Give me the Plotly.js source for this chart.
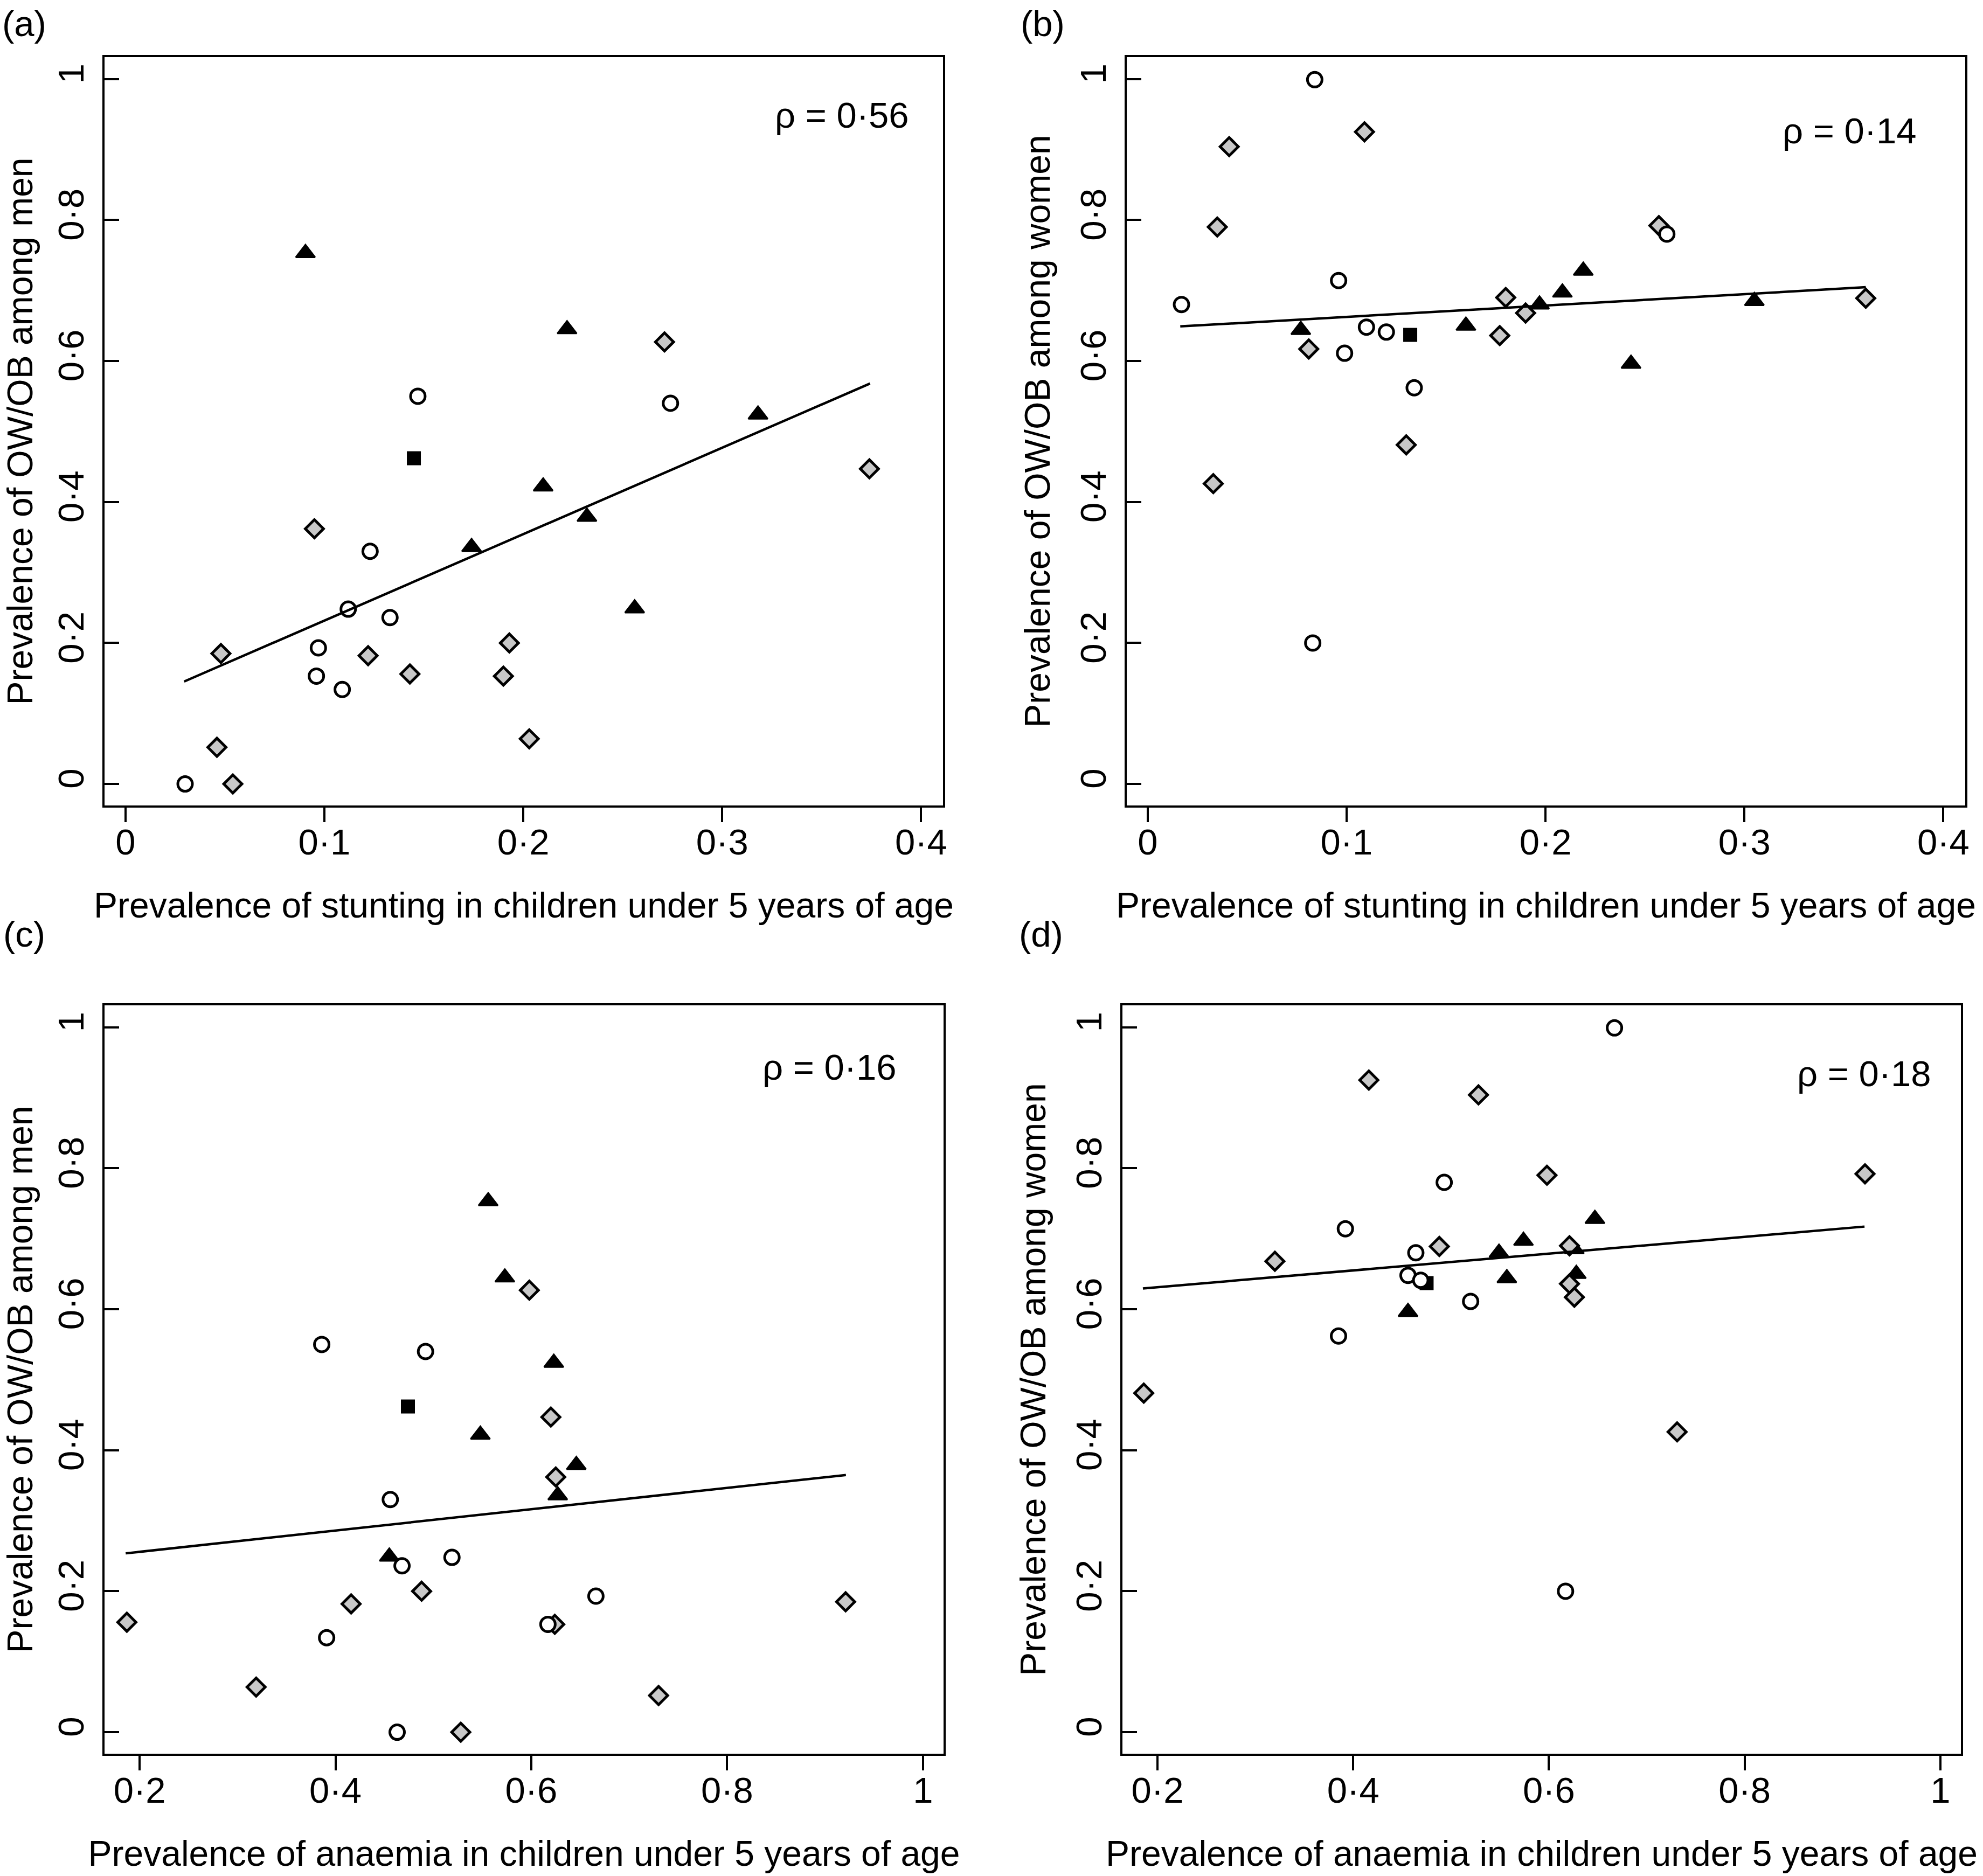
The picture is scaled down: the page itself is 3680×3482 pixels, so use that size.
<!DOCTYPE html>
<html><head><meta charset="utf-8">
<script src="https://cdn.plot.ly/plotly-3.0.1.min.js"></script>
<style>html,body{margin:0;padding:0;background:#fff}</style>
</head><body>
<div id="chart" style="width:3680px;height:3482px"></div>
<script>
// ---------- DATA ----------
// Men: prevalence of OW/OB among men (y of panels a and c)
const menCircY      = [0.550, 0.540, 0.330, 0.248, 0.236, 0.193, 0.153, 0.134, 0.000];
const menCircStunt  = [0.147, 0.274, 0.123, 0.112, 0.133, 0.097, 0.096, 0.109, 0.030];
const menCircAnaem  = [0.386, 0.492, 0.456, 0.519, 0.468, 0.666, 0.617, 0.391, 0.463];

const menDiamY      = [0.627, 0.447, 0.362, 0.200, 0.185, 0.182, 0.156, 0.153, 0.064, 0.052, 0.000];
const menDiamStunt  = [0.271, 0.374, 0.095, 0.193, 0.048, 0.122, 0.143, 0.190, 0.203, 0.046, 0.054];
const menDiamAnaem  = [0.598, 0.620, 0.625, 0.488, 0.921, 0.416, 0.187, 0.624, 0.319, 0.730, 0.528];

const menTriY       = [0.753, 0.645, 0.524, 0.422, 0.379, 0.336, 0.249];
const menTriStunt   = [0.0905, 0.222, 0.318, 0.210, 0.232, 0.174, 0.256];
const menTriAnaem   = [0.556, 0.573, 0.623, 0.548, 0.646, 0.627, 0.455];

const menSqY        = [0.462];
const menSqStunt    = [0.145];
const menSqAnaem    = [0.474];

// Women: prevalence of OW/OB among women (y of panels b and d)
const womCircY      = [0.999, 0.714, 0.680, 0.648, 0.641, 0.611, 0.562, 0.780, 0.200];
const womCircStunt  = [0.084, 0.096, 0.017, 0.110, 0.120, 0.099, 0.134, 0.261, 0.083];
const womCircAnaem  = [0.667, 0.392, 0.464, 0.456, 0.469, 0.520, 0.385, 0.493, 0.617];

const womDiamY      = [0.925, 0.904, 0.790, 0.792, 0.617, 0.690, 0.689, 0.668, 0.636, 0.481, 0.426];
const womDiamStunt  = [0.109, 0.041, 0.035, 0.257, 0.081, 0.180, 0.361, 0.190, 0.177, 0.130, 0.033];
const womDiamAnaem  = [0.416, 0.528, 0.598, 0.923, 0.626, 0.621, 0.488, 0.320, 0.621, 0.186, 0.731];

const womTriY       = [0.644, 0.650, 0.728, 0.697, 0.680, 0.685, 0.596];
const womTriStunt   = [0.077, 0.160, 0.219, 0.2085, 0.197, 0.305, 0.243];
const womTriAnaem   = [0.557, 0.628, 0.647, 0.574, 0.549, 0.626, 0.456];

const womSqY        = [0.637];
const womSqStunt    = [0.132];
const womSqAnaem    = [0.475];

// Fitted lines (end points)
const fitA_x = [0.0295, 0.3743], fitA_y = [0.1453, 0.568];
const fitB_x = [0.0164, 0.361],  fitB_y = [0.649, 0.7046];
const fitC_x = [0.1858, 0.9213], fitC_y = [0.2537, 0.3648];
const fitD_x = [0.1851, 0.9225], fitD_y = [0.6294, 0.7172];

// Spearman correlations
const rhoLabels = ['ρ = 0·56', 'ρ = 0·14', 'ρ = 0·16', 'ρ = 0·18'];
const panelLabels = ['(a)', '(b)', '(c)', '(d)'];

// Tick labels
const stuntTickVals = [0, 0.1, 0.2, 0.3, 0.4];
const stuntTickText = ['0', '0·1', '0·2', '0·3', '0·4'];
const anaemTickVals = [0.2, 0.4, 0.6, 0.8, 1];
const anaemTickText = ['0·2', '0·4', '0·6', '0·8', '1'];
const owTickVals = [0, 0.2, 0.4, 0.6, 0.8, 1];
const owTickText = ['0', '0·2', '0·4', '0·6', '0·8', '1'];

const xTitleStunt = 'Prevalence of stunting in children under 5 years of age';
const xTitleAnaem = 'Prevalence of anaemia in children under 5 years of age';
const yTitleMen = 'Prevalence of OW/OB among men';
const yTitleWomen = 'Prevalence of OW/OB among women';

// ---------- STYLES ----------
const FONT = 'Liberation Sans, Arial, Helvetica, sans-serif';
const FS = 67;
const FS_TITLE = 66;
const mTri  = {symbol: 'triangle-up', size: 31, color: 'black', line: {color: 'black', width: 3}};
const mSq   = {symbol: 'square', size: 26, color: 'black', line: {color: 'black', width: 0}};
const mDiam = {symbol: 'diamond', size: 26, color: '#c8c8c8', line: {color: 'black', width: 5}};
const mCirc = {symbol: 'circle', size: 27, color: 'white', line: {color: 'black', width: 5}};

function panelTraces(xa, ya, sets, fx, fy) {
  const out = [];
  const order = [['tri', mTri], ['sq', mSq], ['diam', mDiam], ['circ', mCirc]];
  order.forEach(([k, m]) => {
    out.push({type: 'scatter', mode: 'markers', x: sets[k][0], y: sets[k][1],
              xaxis: xa, yaxis: ya, marker: m, hoverinfo: 'x+y', cliponaxis: false});
  });
  out.push({type: 'scatter', mode: 'lines', x: fx, y: fy, xaxis: xa, yaxis: ya,
            line: {color: 'black', width: 4.5}, hoverinfo: 'skip'});
  return out;
}

const data = [].concat(
  panelTraces('x', 'y', {
    tri: [menTriStunt, menTriY], sq: [menSqStunt, menSqY],
    diam: [menDiamStunt, menDiamY], circ: [menCircStunt, menCircY]}, fitA_x, fitA_y),
  panelTraces('x2', 'y2', {
    tri: [womTriStunt, womTriY], sq: [womSqStunt, womSqY],
    diam: [womDiamStunt, womDiamY], circ: [womCircStunt, womCircY]}, fitB_x, fitB_y),
  panelTraces('x3', 'y3', {
    tri: [menTriAnaem, menTriY], sq: [menSqAnaem, menSqY],
    diam: [menDiamAnaem, menDiamY], circ: [menCircAnaem, menCircY]}, fitC_x, fitC_y),
  panelTraces('x4', 'y4', {
    tri: [womTriAnaem, womTriY], sq: [womSqAnaem, womSqY],
    diam: [womDiamAnaem, womDiamY], circ: [womCircAnaem, womCircY]}, fitD_x, fitD_y)
);

const W = 3680, H = 3482;
const tickFont = {family: FONT, size: FS, color: 'black'};
function xAxis(domain, range, vals, text, title, anchor) {
  return {domain: domain, range: range, anchor: anchor, tickmode: 'array', tickvals: vals, ticktext: text,
          ticks: 'outside', ticklen: 27, tickwidth: 4, tickcolor: 'black', tickfont: tickFont,
          ticklabelstandoff: -20,
          showline: true, linecolor: 'black', linewidth: 4, mirror: true,
          showgrid: false, zeroline: false, fixedrange: true,
          title: {text: title, font: {family: FONT, size: FS_TITLE, color: 'black'}, standoff: 58}};
}
function yAxis(domain, title, anchor) {
  return {domain: domain, range: [-0.0305, 1.031], anchor: anchor, tickmode: 'array',
          tickvals: owTickVals, ticktext: owTickText, tickangle: -90,
          ticks: 'inside', ticklen: 27, tickwidth: 4, tickcolor: 'black', tickfont: tickFont,
          ticklabelstandoff: 8,
          showline: true, linecolor: 'black', linewidth: 4, mirror: true,
          showgrid: false, zeroline: false, fixedrange: true,
          title: {text: title, font: {family: FONT, size: FS_TITLE, color: 'black'}, standoff: 22}};
}

const dxA = [194 / W, 1750 / W], dxB = [2091 / W, 3647 / W];
const dxC = [194 / W, 1751 / W], dxD = [2083 / W, 3639 / W];
const dyTop = [1 - 1495 / H, 1 - 106 / H], dyBot = [1 - 3255 / H, 1 - 1866 / H];
const stuntRange = [-0.0105, 0.411], anaemRange = [0.1642, 1.021];

const annFont = {family: FONT, size: FS, color: 'black'};
const layout = {
  width: W, height: H, margin: {l: 0, r: 0, t: 0, b: 0},
  paper_bgcolor: 'white', plot_bgcolor: 'white', showlegend: false,
  font: {family: FONT, size: FS, color: 'black'},
  xaxis:  xAxis(dxA, stuntRange, stuntTickVals, stuntTickText, xTitleStunt, 'y'),
  yaxis:  yAxis(dyTop, yTitleMen, 'x'),
  xaxis2: xAxis(dxB, stuntRange, stuntTickVals, stuntTickText, xTitleStunt, 'y2'),
  yaxis2: yAxis(dyTop, yTitleWomen, 'x2'),
  xaxis3: xAxis(dxC, anaemRange, anaemTickVals, anaemTickText, xTitleAnaem, 'y3'),
  yaxis3: yAxis(dyBot, yTitleMen, 'x3'),
  xaxis4: xAxis(dxD, anaemRange, anaemTickVals, anaemTickText, xTitleAnaem, 'y4'),
  yaxis4: yAxis(dyBot, yTitleWomen, 'x4'),
  annotations: [
    {xref: 'x',  yref: 'y',  x: 0.3946, y: 0.9485, text: rhoLabels[0], showarrow: false, xanchor: 'right', yanchor: 'middle', font: annFont},
    {xref: 'x2', yref: 'y2', x: 0.3872, y: 0.9267, text: rhoLabels[1], showarrow: false, xanchor: 'right', yanchor: 'middle', font: annFont},
    {xref: 'x3', yref: 'y3', x: 0.974,  y: 0.9436, text: rhoLabels[2], showarrow: false, xanchor: 'right', yanchor: 'middle', font: annFont},
    {xref: 'x4', yref: 'y4', x: 0.9917, y: 0.934,  text: rhoLabels[3], showarrow: false, xanchor: 'right', yanchor: 'middle', font: annFont},
    {xref: 'paper', yref: 'paper', x: 2 / W,    y: 1 - 43 / H,   text: panelLabels[0], showarrow: false, xanchor: 'left', yanchor: 'middle', font: annFont},
    {xref: 'paper', yref: 'paper', x: 1892 / W, y: 1 - 43 / H,   text: panelLabels[1], showarrow: false, xanchor: 'left', yanchor: 'middle', font: annFont},
    {xref: 'paper', yref: 'paper', x: 4 / W,    y: 1 - 1733 / H, text: panelLabels[2], showarrow: false, xanchor: 'left', yanchor: 'middle', font: annFont},
    {xref: 'paper', yref: 'paper', x: 1889 / W, y: 1 - 1733 / H, text: panelLabels[3], showarrow: false, xanchor: 'left', yanchor: 'middle', font: annFont}
  ]
};

Plotly.newPlot('chart', data, layout, {staticPlot: true, displayModeBar: false});
</script>
</body></html>
